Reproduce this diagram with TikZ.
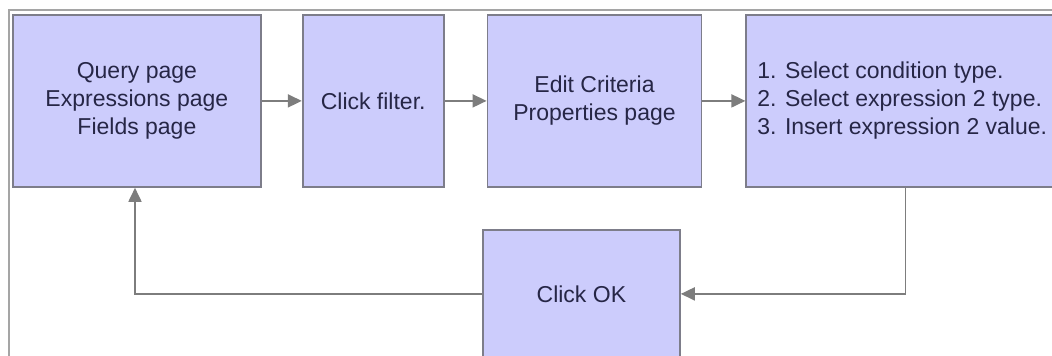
\documentclass[tikz,border=0pt]{standalone}
\usepackage{fontspec}
\setmainfont{Liberation Sans}
\usetikzlibrary{arrows.meta,positioning}
\definecolor{boxfill}{RGB}{204,204,252}
\definecolor{boxline}{RGB}{125,125,138}
\definecolor{flowline}{RGB}{125,125,125}
\definecolor{frameline}{RGB}{165,165,165}
\definecolor{labeltext}{RGB}{38,38,70}

\begin{document}
\begin{tikzpicture}[x=1pt,y=-1pt,>={Triangle[length=14pt,width=13pt]},
    node distance=40pt,
    stepbox/.style={draw=boxline,fill=boxfill,line width=1.8pt,minimum height=172pt,
      inner sep=0pt,text=labeltext,font=\fontsize{23}{28}\selectfont,align=center},
    flow/.style={->,draw=flowline,line width=1.8pt}]
    \clip (0,0) rectangle (1052,356);
    % frame of the cut-out
    \draw[frameline,line width=1.6pt] (9,356) |- (1052,10);
    \node[stepbox,minimum width=248pt,anchor=north west] (query) at (12,14)
        {Query page\\Expressions page\\Fields page};
    \node[stepbox,minimum width=141pt,right=40pt of query]    (filter)   {Click filter.};
    \node[stepbox,minimum width=214pt,right=42pt of filter]   (criteria) {Edit Criteria\\Properties page};
    \node[stepbox,inner xsep=11pt,align=left,right=43pt of criteria] (steps)
        {1. Select condition type.\\2. Select expression 2 type.\\3. Insert expression 2 value.};
    \node[stepbox,minimum width=197pt,minimum height=128pt,anchor=north west] (ok) at (482,229) {Click OK};
    \draw[flow] (query)    -- (filter);
    \draw[flow] (filter)   -- (criteria);
    \draw[flow] (criteria) -- (steps);
    \draw[flow] ([xshift=160pt]steps.south west) |- (ok);
    \draw[flow] (ok) -| ([xshift=123pt]query.south west);
\end{tikzpicture}
\end{document}
